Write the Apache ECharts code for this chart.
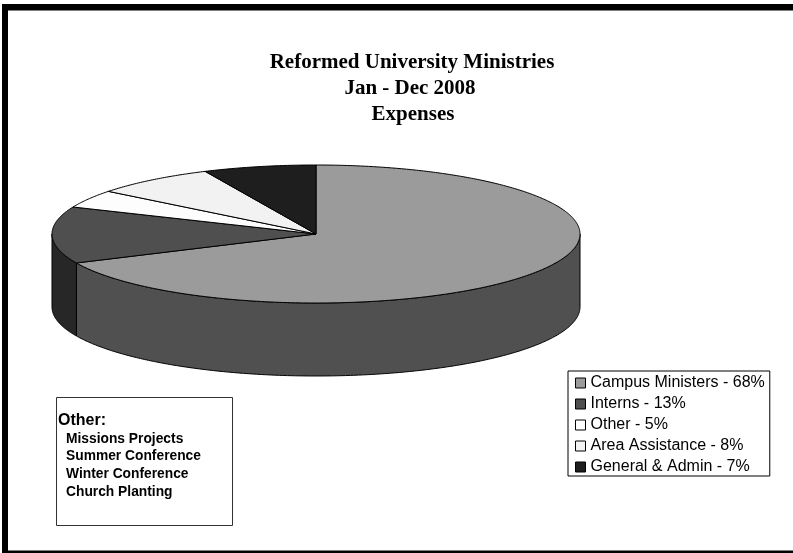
<!DOCTYPE html>
<html><head><meta charset="utf-8">
<style>html,body{margin:0;padding:0;background:#fff}#c{width:793px;height:553px}</style>
<script src="https://cdn.jsdelivr.net/npm/echarts@6/dist/echarts.min.js"></script>
</head><body><div id="c"></div>
<script>
const categories = ['Campus Ministers','Interns','Other','Area Assistance','General & Admin'];
const sliceValues = [68.1,13.3,4.2,7.5,6.9];
const percentLabels = [68,13,5,8,7];
const topColors = ['#9b9b9b','#4f4f4f','#fdfdfd','#f2f2f2','#1e1e1e'];
const wallColors = ['#505050','#272727','#808080','#797979','#0f0f0f'];
const titleLines = ['Reformed University Ministries','Jan - Dec 2008','Expenses'];
const otherHeading = 'Other:';
const otherItems = ['Missions Projects','Summer Conference','Winter Conference','Church Planting'];

const total = sliceValues.reduce((a,b)=>a+b,0);
const pie = {cx:316, cy:234, rx:264, ry:69, depth:73};
const pt = (a,dy=0)=>[pie.cx+pie.rx*Math.sin(a), pie.cy-pie.ry*Math.cos(a)+dy];
function arc(a0,a1,dy){
  const n=Math.max(2,Math.ceil(Math.abs(a1-a0)/0.01)),r=[];
  for(let i=0;i<=n;i++) r.push(pt(a0+(a1-a0)*i/n,dy));
  return r;
}
let cum=0;
const spans=sliceValues.map(v=>{const s=[cum,cum+v];cum+=v;return s.map(x=>x/total*2*Math.PI);});
const FRONT0=Math.PI/2, FRONT1=Math.PI*1.5;

const series=categories.map((c,i)=>({
  type:'custom',
  name:c+' - '+percentLabels[i]+'%',
  coordinateSystem:'none',
  silent:true,
  itemStyle:{color:topColors[i]},
  data:[sliceValues[i]],
  z:2,
  renderItem(){
    const [a0,a1]=spans[i];
    const children=[];
    const w0=Math.max(a0,FRONT0), w1=Math.min(a1,FRONT1);
    if(w1>w0){
      children.push({type:'polygon',
        shape:{points:arc(w0,w1,0).concat(arc(w1,w0,pie.depth))},
        style:{fill:wallColors[i],stroke:'#000',lineWidth:1}});
    }
    children.push({type:'polygon',
      shape:{points:[[pie.cx,pie.cy]].concat(arc(a0,a1,0))},
      style:{fill:topColors[i],stroke:'#000',lineWidth:1}});
    return {type:'group',children};
  }
}));

const sans='"Liberation Sans",Arial,sans-serif';
const titleY=[52,78,104], titleX=[412,410,413];
const chart=echarts.init(document.getElementById('c'),null,{renderer:'canvas'});
chart.setOption({
  animation:false,
  backgroundColor:'#fff',
  title:titleLines.map((t,i)=>({text:t,left:titleX[i],top:titleY[i],textAlign:'center',padding:0,
    textStyle:{fontFamily:'"Liberation Serif","Times New Roman",serif',fontWeight:'bold',fontSize:21,color:'#000'}})),
  legend:{
    orient:'vertical',left:568,top:371,icon:'rect',
    itemWidth:10,itemHeight:10,itemGap:5,
    padding:[4,5,1,7],
    backgroundColor:'#fff',borderColor:'#000',borderWidth:1,borderRadius:0,
    selectedMode:false,
    itemStyle:{borderColor:'#000',borderWidth:1},
    textStyle:{fontFamily:sans,fontSize:16,color:'#000',padding:0}
  },
  graphic:[
    {type:'rect',shape:{x:2,y:4,width:791,height:6.5},style:{fill:'#000'},z:10},
    {type:'rect',shape:{x:2,y:4,width:6,height:549},style:{fill:'#000'},z:10},
    {type:'rect',shape:{x:2,y:550.5,width:791,height:2.5},style:{fill:'#000'},z:10},
    {type:'rect',shape:{x:56.5,y:397.5,width:176,height:128},style:{fill:'#fff',stroke:'#333',lineWidth:1},z:5},
    {type:'text',x:58,y:421,style:{text:otherHeading,font:'bold 16px '+sans,fill:'#000',textVerticalAlign:'middle'},z:6},
    ...otherItems.map((t,i)=>({type:'text',x:66,y:439+i*17.6,
      style:{text:t,font:'bold 13.8px '+sans,fill:'#000',textVerticalAlign:'middle'},z:6}))
  ],
  series
});
</script></body></html>
